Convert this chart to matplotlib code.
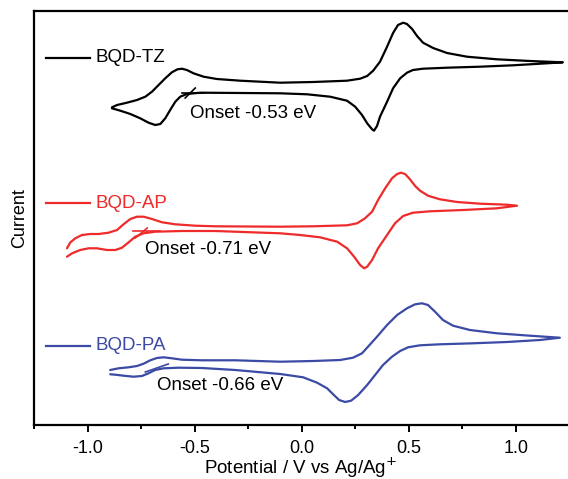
import matplotlib
matplotlib.use("Agg")
import matplotlib.pyplot as plt

plt.rcParams['font.family'] = ['Liberation Sans', 'DejaVu Sans']

# ---------------- data (potential in V vs Ag/Ag+, current in a.u.) -------------
tz_v = [-0.886, -0.862, -0.816, -0.769, -0.730, -0.699, -0.668, -0.637, -0.606, -0.580,
        -0.559, -0.536, -0.505, -0.458, -0.396, -0.287, -0.100, 0.054, 0.212, 0.273,
        0.306, 0.334, 0.366, 0.399, 0.427, 0.450, 0.474, 0.492, 0.516, 0.539,
        0.567, 0.614, 0.679, 0.772, 0.912, 1.066, 1.220,
        1.146, 0.987, 0.833, 0.679, 0.567, 0.520, 0.492, 0.460, 0.427, 0.399,
        0.366, 0.352, 0.338, 0.329, 0.306, 0.282, 0.250, 0.212, 0.133, 0.026,
        -0.100, -0.287, -0.474, -0.536, -0.567, -0.590, -0.614, -0.637, -0.660, -0.684,
        -0.715, -0.754, -0.800, -0.847, -0.886]
tz_i = [317.7, 320, 322.3, 325, 328.3, 333.3, 340, 346.7, 352.7, 355.7,
        356.3, 355, 351.7, 348.3, 346, 344.3, 342.3, 343, 344.3, 346.3,
        349, 354.3, 363.3, 378.3, 392, 400, 402.3, 401, 396, 389,
        382.3, 377, 372, 368.3, 365.7, 364, 362.7,
        361.7, 359.7, 358.3, 357.3, 356.3, 355, 352.3, 346.7, 336.7, 323.3,
        308.3, 299, 294.3, 295.7, 301.7, 310, 318.3, 324.3, 328.3, 330.7,
        331.7, 332, 332.3, 331, 328.3, 323.3, 315, 306.7, 301, 300,
        302.3, 306.7, 311, 314.3, 316.7]

ap_v = [-1.096, -1.080, -1.057, -1.026, -0.987, -0.948, -0.902, -0.862, -0.832, -0.800,
        -0.769, -0.738, -0.699, -0.652, -0.590, -0.497, -0.404, -0.100, 0.054, 0.212,
        0.259, 0.296, 0.329, 0.357, 0.390, 0.422, 0.446, 0.464, 0.483, 0.506,
        0.530, 0.553, 0.590, 0.646, 0.726, 0.833, 0.959, 1.006,
        0.912, 0.754, 0.600, 0.520, 0.474, 0.436, 0.399, 0.357, 0.329, 0.306,
        0.292, 0.273, 0.245, 0.212, 0.166, 0.086, -0.007, -0.100, -0.404, -0.559,
        -0.684, -0.738, -0.777, -0.808, -0.839, -0.870, -0.909, -0.956, -0.995, -1.034,
        -1.072, -1.096]
ap_i = [176.7, 182.7, 186.7, 190, 191, 191, 192.3, 195, 200.7, 206,
        208.3, 208.3, 206, 202.7, 200.7, 199.3, 198.7, 198.3, 198.7, 199.7,
        201.7, 206.7, 213.3, 225, 236.7, 246.7, 251, 252.3, 251, 245.7,
        239, 234.3, 229.3, 225.7, 223, 221.3, 220.3, 219.3,
        216.7, 215, 213.7, 212.3, 209, 201.7, 190, 176.7, 165, 158.3,
        156.7, 160, 168.3, 176.7, 183.3, 187.7, 190, 191.7, 194, 194,
        193.3, 191.7, 188.3, 182.7, 177.3, 175, 175, 176.7, 176.7, 175,
        171.7, 168.3]

pa_v = [-0.894, -0.855, -0.808, -0.769, -0.738, -0.707, -0.676, -0.645, -0.606, -0.559,
        -0.466, -0.310, -0.100, 0.054, 0.180, 0.240, 0.282, 0.310, 0.352, 0.399,
        0.446, 0.492, 0.530, 0.562, 0.590, 0.623, 0.660, 0.707, 0.786, 0.912,
        1.066, 1.206,
        1.113, 0.959, 0.800, 0.646, 0.553, 0.497, 0.460, 0.422, 0.380, 0.343,
        0.306, 0.264, 0.231, 0.203, 0.175, 0.147, 0.119, 0.072, 0.007, -0.100,
        -0.310, -0.466, -0.575, -0.645, -0.684, -0.715, -0.746, -0.785, -0.832, -0.870,
        -0.894]
pa_i = [55, 56.7, 57.7, 59, 61.3, 64.7, 67, 67.7, 66.7, 65.3,
        64.7, 64.7, 63.3, 64, 65, 67.3, 71.7, 78.3, 88.3, 100,
        110, 116.7, 120.7, 121.7, 120, 113.3, 105, 99.3, 95, 91.7,
        89.3, 87.3,
        85, 83, 81.7, 80.7, 79.7, 77.7, 74, 68.3, 60, 50,
        40, 30, 24.3, 23, 25, 30.7, 36.7, 42.3, 47.7, 51,
        55, 57, 57.3, 56.7, 55, 51.7, 49, 48.3, 49.3, 50.3,
        50.7]

# onset tangent marks: slanted tangent and baseline
tz_tan_v = [-0.544, -0.497]; tz_tan_i = [327, 337]
tz_base_v = [-0.558, -0.455]; tz_base_i = [332, 332]
ap_tan_v = [-0.777, -0.721]; ap_tan_i = [187, 197]
ap_base_v = [-0.786, -0.660]; ap_base_i = [194, 194]
pa_tan_v = [-0.730, -0.623]; pa_tan_i = [53, 61]

names = ["BQD-TZ", "BQD-AP", "BQD-PA"]
onsets = ["Onset -0.53 eV", "Onset -0.71 eV", "Onset -0.66 eV"]
colors = ["#000000", "#EE2A2A", "#3B4BA5"]

# ---------------- figure ----------------
fig = plt.figure(figsize=(5.68, 4.79), dpi=100)
ax = fig.add_axes([34 / 568, 54 / 479, 534 / 568, 414 / 479])

lw = 1.6
kw = dict(lw=lw, solid_joinstyle='round', solid_capstyle='round')
ax.plot(tz_v, tz_i, color=colors[0], **kw)
ax.plot(ap_v, ap_i, color=colors[1], **kw)
ax.plot(pa_v, pa_i, color=colors[2], **kw)

ax.plot(tz_tan_v, tz_tan_i, color=colors[0], lw=1.2)
ax.plot(tz_base_v, tz_base_i, color=colors[0], lw=1.2)
ax.plot(ap_tan_v, ap_tan_i, color=colors[1], lw=1.2)
ax.plot(ap_base_v, ap_base_i, color=colors[1], lw=1.2)
ax.plot(pa_tan_v, pa_tan_i, color=colors[2], lw=1.2)

# legend-like labels
leg_y = [367, 222, 79]
for name, c, y in zip(names, colors, leg_y):
    ax.plot([-1.192, -0.987], [y, y], color=c, lw=lw)
    ax.text(-0.962, y, name, color=c, fontsize=13.5, va='center', ha='left')

# onset labels
onset_pos = [(-0.520, 311), (-0.730, 176), (-0.674, 40)]
for txt, (x, y) in zip(onsets, onset_pos):
    ax.text(x, y, txt, color='black', fontsize=13.5, va='center', ha='left')

ax.set_xlim(-1.248, 1.244)
ax.set_ylim(0, 414)

ax.set_xticks([-1.0, -0.5, 0.0, 0.5, 1.0])
ax.set_xticklabels(["-1.0", "-0.5", "0.0", "0.5", "1.0"])
ax.set_xticks([-1.25, -0.75, -0.25, 0.25, 0.75], minor=True)
ax.set_yticks([])
ax.tick_params(axis='x', which='major', direction='out', length=5, width=1.4,
               labelsize=13, pad=6)
ax.tick_params(axis='x', which='minor', direction='out', length=3, width=1.4)

for s in ['left', 'bottom', 'top']:
    ax.spines[s].set_linewidth(1.6)
ax.spines['right'].set_visible(False)

ax.set_xlabel("Potential / V vs Ag/Ag$^{+}$", fontsize=13.5, labelpad=-0.8)
ax.set_ylabel("Current", fontsize=13, labelpad=4)

fig.savefig("out.png", dpi=100)
